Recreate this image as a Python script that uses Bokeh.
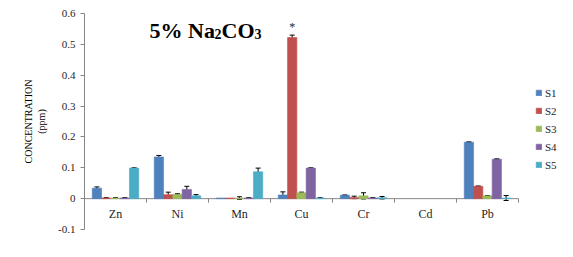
import numpy as np
from bokeh.plotting import figure
from bokeh.models import (ColumnDataSource, Range1d, FixedTicker, Whisker, TeeHead,
                          Legend, LegendItem, Label, InlineStyleSheet)
from bokeh.core.properties import value
from bokeh.embed import file_html
from bokeh.resources import INLINE

# ---- data ----
metals = ["Zn", "Ni", "Mn", "Cu", "Cr", "Cd", "Pb"]
series = ["S1", "S2", "S3", "S4", "S5"]
s1 = [0.034, 0.135, 0.002, 0.012, 0.011, 0.0, 0.183]
s2 = [0.002, 0.013, 0.002, 0.522, 0.004, 0.0, 0.040]
s3 = [0.002, 0.014, 0.002, 0.019, 0.009, 0.0, 0.009]
s4 = [0.002, 0.030, 0.002, 0.099, 0.002, 0.0, 0.128]
s5 = [0.099, 0.009, 0.087, 0.002, 0.003, 0.0, 0.002]
e1 = [0.004, 0.005, 0.0, 0.010, 0.001, 0.0, 0.001]
e2 = [0.001, 0.008, 0.0, 0.008, 0.004, 0.0, 0.001]
e3 = [0.001, 0.002, 0.004, 0.002, 0.010, 0.0, 0.001]
e4 = [0.001, 0.010, 0.001, 0.001, 0.001, 0.0, 0.001]
e5 = [0.001, 0.004, 0.012, 0.001, 0.004, 0.0, 0.008]
colors = ["#4f81bd", "#c0504d", "#9bbb59", "#8064a2", "#4bacc6"]
y_ticks = [-0.1, 0.0, 0.1, 0.2, 0.3, 0.4, 0.5, 0.6]
y_tick_labels = ["-0.1", "0", "0.1", "0.2", "0.3", "0.4", "0.5", "0.6"]
title_parts = ["5% Na", "2", "CO", "3"]
marker_text = "*"

values = [s1, s2, s3, s4, s5]
errors = [e1, e2, e3, e4, e5]

SERIF = "Liberation Serif"
AXIS_GRAY = "#868686"
TEXT = "#262626"

W, H = 557, 234
LEFT, TOP, BOTTOM = 84, 13, 5
frame_w = W - LEFT
cat_px = 434                       # width of the category band in pixels
ncat = len(metals)
x_end = ncat * frame_w / cat_px    # frame continues to the right for the legend

p = figure(width=W, height=H,
           x_range=Range1d(0, x_end), y_range=Range1d(-0.1, 0.6),
           output_backend="svg", toolbar_location=None,
           min_border_left=LEFT, min_border_right=0,
           min_border_top=TOP, min_border_bottom=BOTTOM)
p.stylesheets = [InlineStyleSheet(css=":host { box-shadow: -2px -2px 0 0 #c0504d; }")]
p.outline_line_color = None
p.grid.visible = False
p.xaxis.visible = False
p.background_fill_color = "white"
p.border_fill_color = "white"

centers = np.arange(ncat) + 0.5
bounds = np.arange(ncat + 1).astype(float)
n = len(series)
step = 0.15
bw = 0.15
offsets = (np.arange(n) - (n - 1) / 2) * step

# x axis lying on y = 0 with ticks between categories
p.segment(x0=[0.0], y0=[0.0], x1=[float(ncat)], y1=[0.0], line_color=AXIS_GRAY, line_width=1)
p.ray(x=bounds.tolist(), y=[0.0] * len(bounds), length=4, length_units="screen",
      angle=-np.pi / 2, line_color=AXIS_GRAY, line_width=1)
p.text(x=centers.tolist(), y=[0.0] * ncat, text=metals, y_offset=8,
       text_align="center", text_baseline="top",
       text_font=value(SERIF), text_font_size="12px", text_color=TEXT)

items = []
for k in range(n):
    xs = centers + offsets[k]
    v = np.array(values[k])
    e = np.array(errors[k])
    keep = v > 0
    src = ColumnDataSource(dict(x=xs[keep].tolist(), top=v[keep].tolist()))
    r = p.vbar(x="x", top="top", bottom=0, width=bw, source=src,
               fill_color=colors[k], line_color=colors[k], line_width=0.6)
    items.append(LegendItem(label=series[k], renderers=[r]))
    ke = e > 0
    esrc = ColumnDataSource(dict(x=xs[ke].tolist(), upper=(v + e)[ke].tolist(),
                                 lower=(v - e)[ke].tolist()))
    w = Whisker(base="x", upper="upper", lower="lower", source=esrc,
                line_color="black", line_width=1,
                upper_head=TeeHead(size=5, line_color="black", line_width=1),
                lower_head=TeeHead(size=5, line_color="black", line_width=1))
    p.add_layout(w)

# asterisk above the largest bar (Cu, S2)
cu = metals.index("Cu")
p.add_layout(Label(x=float(centers[cu] + offsets[1]), y=s2[cu] + e2[cu] + 0.025,
                   text=marker_text, text_align="center", text_baseline="middle",
                   text_font=SERIF, text_font_size="12px", text_color=TEXT))

# title with subscripts
big, small = 22, 14
tx, ty = 1.05, 0.545
x_off = 0.0
widths = [2.972 * big, 0.5 * small, 1.5 * big, 0.5 * small]
for i, part in enumerate(title_parts):
    sub = i % 2 == 1
    p.add_layout(Label(x=tx, y=ty - (0.013 if sub else 0.0), x_offset=round(x_off),
                       text=part, text_font=SERIF, text_font_style="bold",
                       text_font_size=f"{small if sub else big}px",
                       text_color="black", text_baseline="alphabetic"))
    x_off += widths[i]

# y axis
ya = p.yaxis[0]
ya.ticker = FixedTicker(ticks=y_ticks)
ya.major_label_overrides = dict(zip(y_ticks, y_tick_labels))
ya.minor_tick_line_color = None
ya.major_tick_in = 0
ya.major_tick_out = 4
ya.axis_line_color = AXIS_GRAY
ya.major_tick_line_color = AXIS_GRAY
ya.major_label_text_font = SERIF
ya.major_label_text_font_size = "11px"
ya.major_label_text_color = TEXT
ya.major_label_standoff = 5
ya.axis_label = "CONCENTRATION\n(ppm)"
ya.axis_label_text_font = SERIF
ya.axis_label_text_font_size = "10px"
ya.axis_label_text_font_style = "normal"
ya.axis_label_text_color = "black"
ya.axis_label_standoff = 8

legend = Legend(items=items, location=(451, 58), orientation="vertical",
                margin=0, padding=0, spacing=5,
                glyph_width=7, glyph_height=7, label_height=13,
                label_standoff=3, label_text_font=SERIF,
                label_text_font_size="11px", label_text_color=TEXT,
                border_line_color=None, background_fill_alpha=0)
p.add_layout(legend)

open("out.html", "w").write(file_html(p, INLINE))
